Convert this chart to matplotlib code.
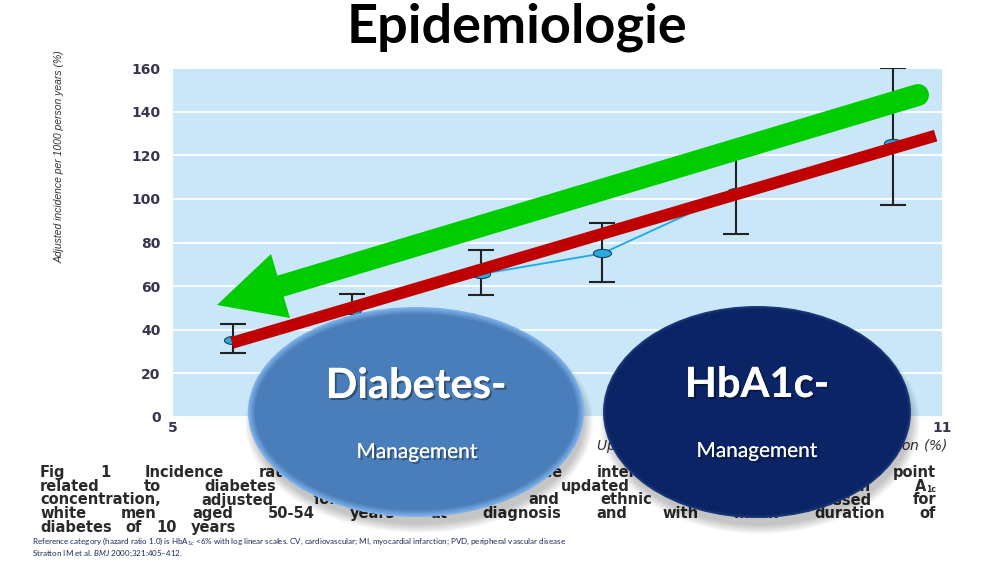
import numpy as np
import matplotlib
matplotlib.use("Agg")
import matplotlib.pyplot as plt
from matplotlib.patches import Ellipse, Polygon
from matplotlib.path import Path
import matplotlib.patheffects as pe
import matplotlib.colors as mcolors

# ---------------- data ----------------
hba1c = [5.47, 6.40, 7.40, 8.35, 9.39, 10.62]
incidence = [35.5, 49.0, 65.5, 75.0, 103.0, 125.5]
ci_low = [29.5, 42.0, 56.0, 62.0, 84.0, 97.0]
ci_high = [42.5, 56.5, 76.5, 89.0, 124.0, 160.0]
trend_x = [5.46, 10.95]
trend_y = [34.0, 129.0]
x_ticks = [5, 6, 7, 8, 9, 10, 11]
y_ticks = [0, 20, 40, 60, 80, 100, 120, 140, 160]

title = "Epidemiologie"
y_label = "Adjusted incidence per 1000 person years (%)"
x_label = "Updated mean haemoglobin A$_{1c}$ concentration (%)"
bubble_left = ("Diabetes-", "Management")
bubble_right = ("HbA1c-", "Management")
caption_lines = [
    "Fig 1 Incidence rates and 95% confidence intervals for any end point",
    "related to diabetes by category of updated mean haemoglobin A",
    "concentration, adjusted for age, sex, and ethnic group, expressed for",
    "white men aged 50-54 years at diagnosis and with mean duration of",
    "diabetes of 10 years",
]
caption_sub = "1c"
ref_lines = [
    "Reference category (hazard ratio 1.0) is HbA$_{1c}$ <6% with log linear scales. "
    "CV, cardiovascular; MI, myocardial infarction; PVD, peripheral vascular disease",
    "Stratton IM et al. $\\mathit{BMJ}$ 2000;321:405–412.",
]

plt.rcParams['mathtext.fontset'] = 'custom'
plt.rcParams['mathtext.rm'] = 'Lato'
plt.rcParams['mathtext.it'] = 'Lato:italic'
plt.rcParams['mathtext.bf'] = 'Lato:bold'

W, H = 1000, 563
fig = plt.figure(figsize=(10, 5.63), dpi=100)
fig.patch.set_facecolor('white')

# ---------------- main chart ----------------
ax = fig.add_axes([173 / W, (H - 417) / H, 769 / W, 349 / H])
ax.set_facecolor('#c9e7f8')
ax.set_xlim(5, 11)
ax.set_ylim(0, 160)
for s in ax.spines.values():
    s.set_visible(False)
ax.set_yticks(y_ticks)
ax.set_xticks(x_ticks)
ax.tick_params(length=0)
ax.tick_params(axis='y', pad=9)
ax.tick_params(axis='x', pad=3)
for lab in ax.get_yticklabels() + ax.get_xticklabels():
    lab.set_fontsize(10)
    lab.set_fontweight('bold')
    lab.set_color('#3a3350')
    lab.set_family('DejaVu Sans')
ax.yaxis.grid(True, color='white', lw=1.3)
ax.set_axisbelow(True)

ax.set_ylabel(y_label, family='Liberation Sans', style='italic', fontsize=7.5,
              color='#333333', va='center')
ax.yaxis.set_label_coords((60 - 173) / 769, (417 - 157) / 349)
ax.set_xlabel(x_label, family='DejaVu Sans', style='italic', fontsize=10,
              color='#333333', ha='right', va='center')
ax.xaxis.set_label_coords((948 - 173) / 769, (417 - 446) / 349)

err = [np.array(incidence) - np.array(ci_low), np.array(ci_high) - np.array(incidence)]
ax.errorbar(hba1c, incidence, yerr=err, fmt='none', ecolor='#222222',
            elinewidth=1.5, capsize=9.4, capthick=1.5, zorder=3)
ax.plot(hba1c, incidence, color='#1fa8e8', lw=1.3, zorder=4)
t = np.linspace(0, 2 * np.pi, 60)
ell_marker = Path(np.column_stack([np.cos(t), 0.45 * np.sin(t)]))
ax.plot(hba1c, incidence, ls='none', marker=ell_marker, ms=13,
        mfc='#29aae1', mec='#1b3e5c', mew=0.8, zorder=5)
ax.plot(trend_x, trend_y, color='#c00000', lw=8.6, solid_capstyle='butt', zorder=6)

# ---------------- overlay (slide drawings, pixel coordinates) ----------------
ov = fig.add_axes([0, 0, 1, 1])
ov.set_zorder(5)
ov.patch.set_alpha(0)
ov.set_xlim(0, W)
ov.set_ylim(H, 0)
ov.axis('off')

ov.text(517, 43, title, ha='center', va='baseline', fontsize=39,
        fontweight='bold', family='Lato', color='black', zorder=10)

# green arrow
ov.plot([918, 281], [95, 286], color='#00cc00', lw=15.8, solid_capstyle='round', zorder=2)
ov.add_patch(Polygon([[217, 305], [271, 254], [290, 318]], closed=True,
                     facecolor='#00cc00', edgecolor='none', zorder=2))

# caption (justified word by word)
renderer = fig.canvas.get_renderer()
x_left, x_right = 40, 936
base_y = [477, 491, 504.5, 518, 532]
cap_kw = dict(ha='left', va='baseline', fontweight='bold', family='DejaVu Sans',
              color='#2a2a2a', zorder=1)
for i, line in enumerate(caption_lines):
    words = line.split(' ')
    texts = [ov.text(0, base_y[i], w, fontsize=10.5, **cap_kw) for w in words]
    widths = [tt.get_window_extent(renderer).width for tt in texts]
    extra = 10 if i == 1 else 0
    if i < len(caption_lines) - 1:
        gap = (x_right - extra - x_left - sum(widths)) / (len(words) - 1)
    else:
        gap = 14
    x = x_left
    for tt, wd in zip(texts, widths):
        tt.set_x(x)
        x += wd + gap
    if i == 1:
        ov.text(x - gap + 0.5, base_y[i] + 0.5, caption_sub, fontsize=5.5, **cap_kw)

for j, line in enumerate(ref_lines):
    ov.text(32, [544, 556][j], line, ha='left', va='baseline', fontsize=5.8,
            family='Lato', color='#1c2a5c', zorder=1)

# bubbles
def shadow(cx, cy, w, h):
    for k in range(10):
        ov.add_patch(Ellipse((cx + 3, cy + 10), w - 6 + 2 * k, h - 6 + 2 * k,
                             facecolor='black', edgecolor='none', alpha=0.025, zorder=3))

def bubble(cx, cy, w, h, body, rim, nrim=8):
    c0 = np.array(mcolors.to_rgb(rim))
    c1 = np.array(mcolors.to_rgb(body))
    for k in range(nrim):
        f = k / (nrim - 1)
        col = c0 * (1 - f) + c1 * f
        ov.add_patch(Ellipse((cx, cy), w - 2 * k * 1.0, h - 2 * k * 1.0,
                             facecolor=col, edgecolor='none', zorder=4))

shadow(416, 412, 336, 210)
shadow(757, 412, 308, 212)
bubble(416, 412, 336, 210, '#4a7ebb', '#7fb2ea')
bubble(757, 412, 308, 212, '#0a2465', '#1d3a7a', nrim=4)

txt_fx = [pe.withSimplePatchShadow(offset=(1.5, -1.5), shadow_rgbFace='black', alpha=0.35), pe.Normal()]
ov.text(416, 398, bubble_left[0], ha='center', va='baseline', fontsize=30,
        fontweight='bold', family='Lato', color='white', zorder=6, path_effects=txt_fx)
ov.text(417, 458, bubble_left[1], ha='center', va='baseline', fontsize=15,
        family='Lato', color='white', zorder=6, path_effects=txt_fx)
ov.text(757, 397, bubble_right[0], ha='center', va='baseline', fontsize=30,
        fontweight='bold', family='Lato', color='white', zorder=6, path_effects=txt_fx)
ov.text(757, 457, bubble_right[1], ha='center', va='baseline', fontsize=15,
        family='Lato', color='white', zorder=6, path_effects=txt_fx)

fig.savefig('out.png', dpi=100, facecolor='white')
